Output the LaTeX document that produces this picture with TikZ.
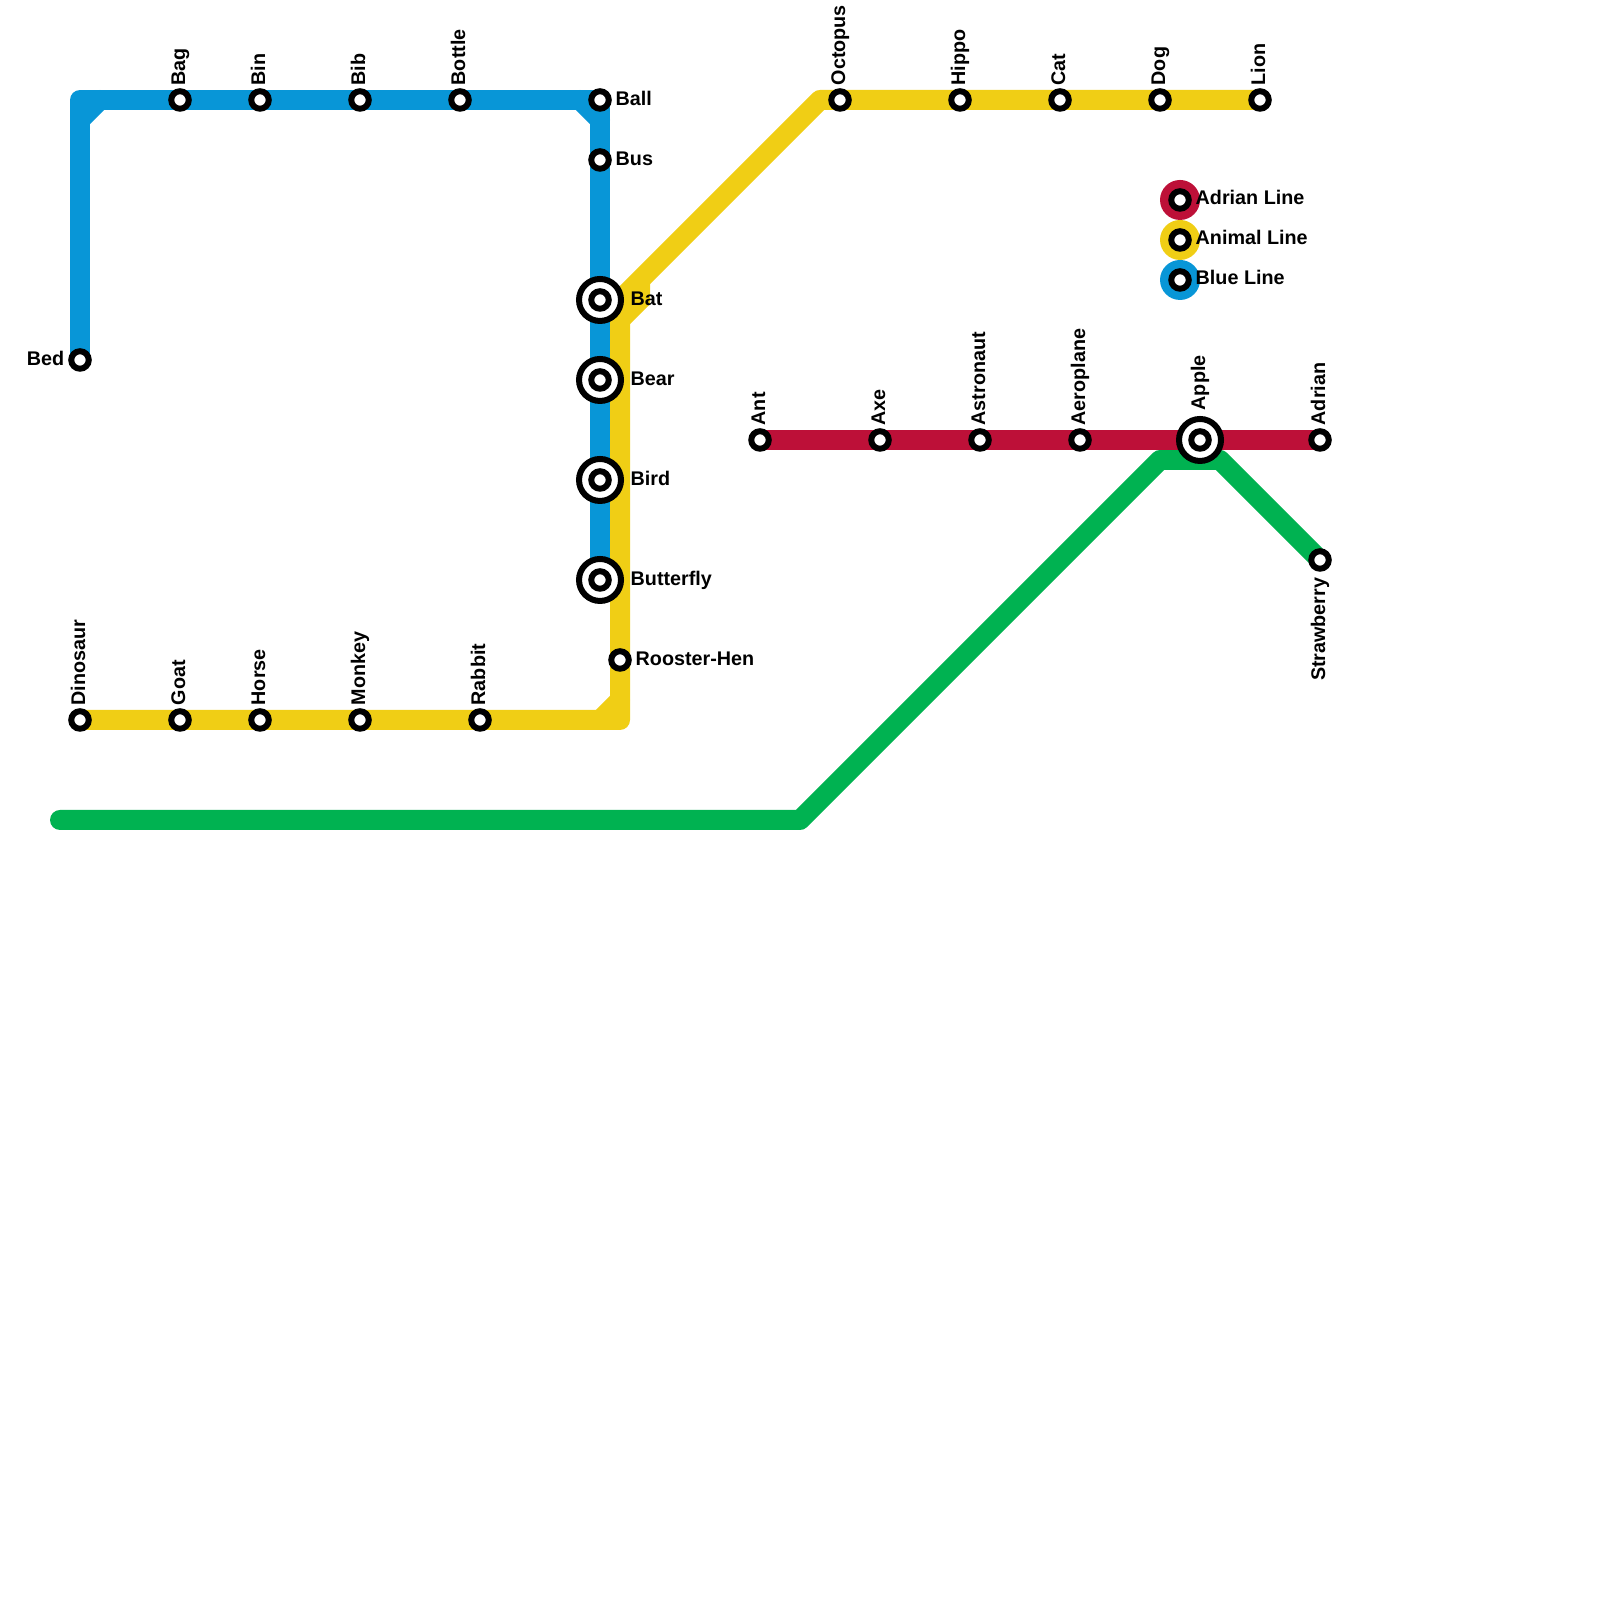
\documentclass[tikz,border=0pt]{standalone}
\usepackage{fontspec}
\setmainfont{Liberation Sans}
\usetikzlibrary{backgrounds}
\definecolor{lineblue}{RGB}{8,150,215}
\definecolor{lineyellow}{RGB}{240,206,21}
\definecolor{linered}{RGB}{189,16,56}
\definecolor{linegreen}{RGB}{0,178,81}
\tikzset{
  route/.style={line width=2mm, line cap=round, line join=round},
  stop/.style={circle, draw=black, fill=white, line width=0.6mm, minimum size=1.75mm, inner sep=0pt},
  hub/.style={circle, draw=black, fill=white, line width=0.6mm, minimum size=4.2mm, inner sep=0pt},
  disc/.style={circle, minimum size=4mm, inner sep=0pt},
  tag/.style={font=\fontsize{5.62}{7}\selectfont\bfseries, inner sep=0pt, text height=1.65mm, text depth=0.05mm},
  tagup/.style={tag, rotate=90, anchor=west, text height=1.45mm, text depth=0.45mm},
  tagdown/.style={tag, rotate=90, anchor=east, text height=1.45mm, text depth=0.45mm},
  tagright/.style={tag, anchor=west},
  tagleft/.style={tag, anchor=east}
}
\begin{document}
\begin{tikzpicture}
  \useasboundingbox (0,0) rectangle (16,16);

  \node[disc, fill=linered]    (adrianlinedisc) at (11.8,14) {};
  \node[disc, fill=lineyellow] (animallinedisc) at (11.8,13.6) {};
  \node[disc, fill=lineblue]   (bluelinedisc)   at (11.8,13.2) {};
  \node[stop] (adrianlinestop) at (11.8,14) {};
  \node[stop] (animallinestop) at (11.8,13.6) {};
  \node[stop] (bluelinestop)   at (11.8,13.2) {};
  \node[tagright] (adrianlinetag) at (11.95,14.03) {Adrian Line};
  \node[tagright] (animallinetag) at (11.95,13.63) {Animal Line};
  \node[tagright] (bluelinetag)   at (11.95,13.23) {Blue Line};

  \node[hub] (batring)       at (6,13) {};
  \node[hub] (bearring)      at (6,12.2) {};
  \node[hub] (birdring)      at (6,11.2) {};
  \node[hub] (butterflyring) at (6,10.2) {};
  \node[hub] (applering)     at (12,11.6) {};

  \node[stop] (bed)       at (0.8,12.4) {};
  \node[stop] (bag)       at (1.8,15) {};
  \node[stop] (bin)       at (2.6,15) {};
  \node[stop] (bib)       at (3.6,15) {};
  \node[stop] (bottle)    at (4.6,15) {};
  \node[stop] (ball)      at (6,15) {};
  \node[stop] (bus)       at (6,14.4) {};
  \node[stop] (bat)       at (6,13) {};
  \node[stop] (bear)      at (6,12.2) {};
  \node[stop] (bird)      at (6,11.2) {};
  \node[stop] (butterfly) at (6,10.2) {};

  \node[stop] (dinosaur) at (0.8,8.8) {};
  \node[stop] (goat)     at (1.8,8.8) {};
  \node[stop] (horse)    at (2.6,8.8) {};
  \node[stop] (monkey)   at (3.6,8.8) {};
  \node[stop] (rabbit)   at (4.8,8.8) {};
  \node[stop] (rooster)  at (6.2,9.4) {};
  \node[stop] (octopus)  at (8.4,15) {};
  \node[stop] (hippo)    at (9.6,15) {};
  \node[stop] (cat)      at (10.6,15) {};
  \node[stop] (dog)      at (11.6,15) {};
  \node[stop] (lion)     at (12.6,15) {};

  \node[stop] (ant)        at (7.6,11.6) {};
  \node[stop] (axe)        at (8.8,11.6) {};
  \node[stop] (astronaut)  at (9.8,11.6) {};
  \node[stop] (aeroplane)  at (10.8,11.6) {};
  \node[stop] (apple)      at (12,11.6) {};
  \node[stop] (adrian)     at (13.2,11.6) {};
  \node[stop] (strawberry) at (13.2,10.4) {};

  \coordinate (bluecorner) at (0.8,15);
  \coordinate (blueleftdown) at (0.8,14.8);
  \coordinate (blueleftside) at (1,15);
  \coordinate (bluerightside) at (5.8,15);
  \coordinate (bluerightdown) at (6,14.8);
  \coordinate (yellowcorner) at (6.2,8.8);
  \coordinate (yellowinner) at (6,8.8);
  \coordinate (yellowup) at (6.2,9);
  \coordinate (yellowbend) at (6.2,13);
  \coordinate (yellowstuba) at (6.2,12.8);
  \coordinate (yellowstubb) at (6.4,13);
  \coordinate (yellowstubc) at (6.4,13.2);
  \coordinate (yellowtop) at (8.2,15);
  \coordinate (greenstart) at (0.6,7.8);
  \coordinate (greenbenda) at (8,7.8);
  \coordinate (greenbendb) at (11.6,11.4);
  \coordinate (greenbendc) at (12.2,11.4);

  \begin{scope}[on background layer]
    \draw[route, linegreen] (greenstart) -- (greenbenda) -- (greenbendb) -- (greenbendc) -- (strawberry.center);
    \draw[route, lineblue] (bed.center) -- (bluecorner) -- (ball.center) -- (butterfly.center);
    \draw[route, lineblue] (blueleftdown) -- (blueleftside);
    \draw[route, lineblue] (bluerightside) -- (bluerightdown);
    \draw[route, lineyellow] (dinosaur.center) -- (yellowcorner) -- (yellowbend) -- (yellowtop) -- (lion.center);
    \draw[route, lineyellow] (yellowinner) -- (yellowup);
    \draw[route, lineyellow, line cap=butt, line join=miter] (yellowstuba) -- (yellowstubb) -- (yellowstubc);
    \draw[route, linered] (ant.center) -- (adrian.center);
  \end{scope}

  \node[tagleft]  (bedtag)    at (0.65,12.42) {Bed};
  \node[tagup]    (bagtag)    at (1.8,15.14) {Bag};
  \node[tagup]    (bintag)    at (2.6,15.14) {Bin};
  \node[tagup]    (bibtag)    at (3.6,15.14) {Bib};
  \node[tagup]    (bottletag) at (4.6,15.14) {Bottle};
  \node[tagright] (balltag)   at (6.15,15.02) {Ball};
  \node[tagright] (bustag)    at (6.15,14.42) {Bus};
  \node[tagright] (battag)    at (6.3,13.02) {Bat};
  \node[tagright] (beartag)   at (6.3,12.22) {Bear};
  \node[tagright] (birdtag)   at (6.3,11.22) {Bird};
  \node[tagright] (butterflytag) at (6.3,10.22) {Butterfly};

  \node[tagup]    (dinosaurtag) at (0.8,8.94) {Dinosaur};
  \node[tagup]    (goattag)     at (1.8,8.94) {Goat};
  \node[tagup]    (horsetag)    at (2.6,8.94) {Horse};
  \node[tagup]    (monkeytag)   at (3.6,8.94) {Monkey};
  \node[tagup]    (rabbittag)   at (4.8,8.94) {Rabbit};
  \node[tagright] (roostertag)  at (6.35,9.42) {Rooster-Hen};
  \node[tagup]    (octopustag)  at (8.4,15.14) {Octopus};
  \node[tagup]    (hippotag)    at (9.6,15.14) {Hippo};
  \node[tagup]    (cattag)      at (10.6,15.14) {Cat};
  \node[tagup]    (dogtag)      at (11.6,15.14) {Dog};
  \node[tagup]    (liontag)     at (12.6,15.14) {Lion};

  \node[tagup]   (anttag)        at (7.6,11.74) {Ant};
  \node[tagup]   (axetag)        at (8.8,11.74) {Axe};
  \node[tagup]   (astronauttag)  at (9.8,11.74) {Astronaut};
  \node[tagup]   (aeroplanetag)  at (10.8,11.74) {Aeroplane};
  \node[tagup]   (appletag)      at (12,11.89) {Apple};
  \node[tagup]   (adriantag)     at (13.2,11.74) {Adrian};
  \node[tagdown] (strawberrytag) at (13.2,10.23) {Strawberry};
\end{tikzpicture}
\end{document}
